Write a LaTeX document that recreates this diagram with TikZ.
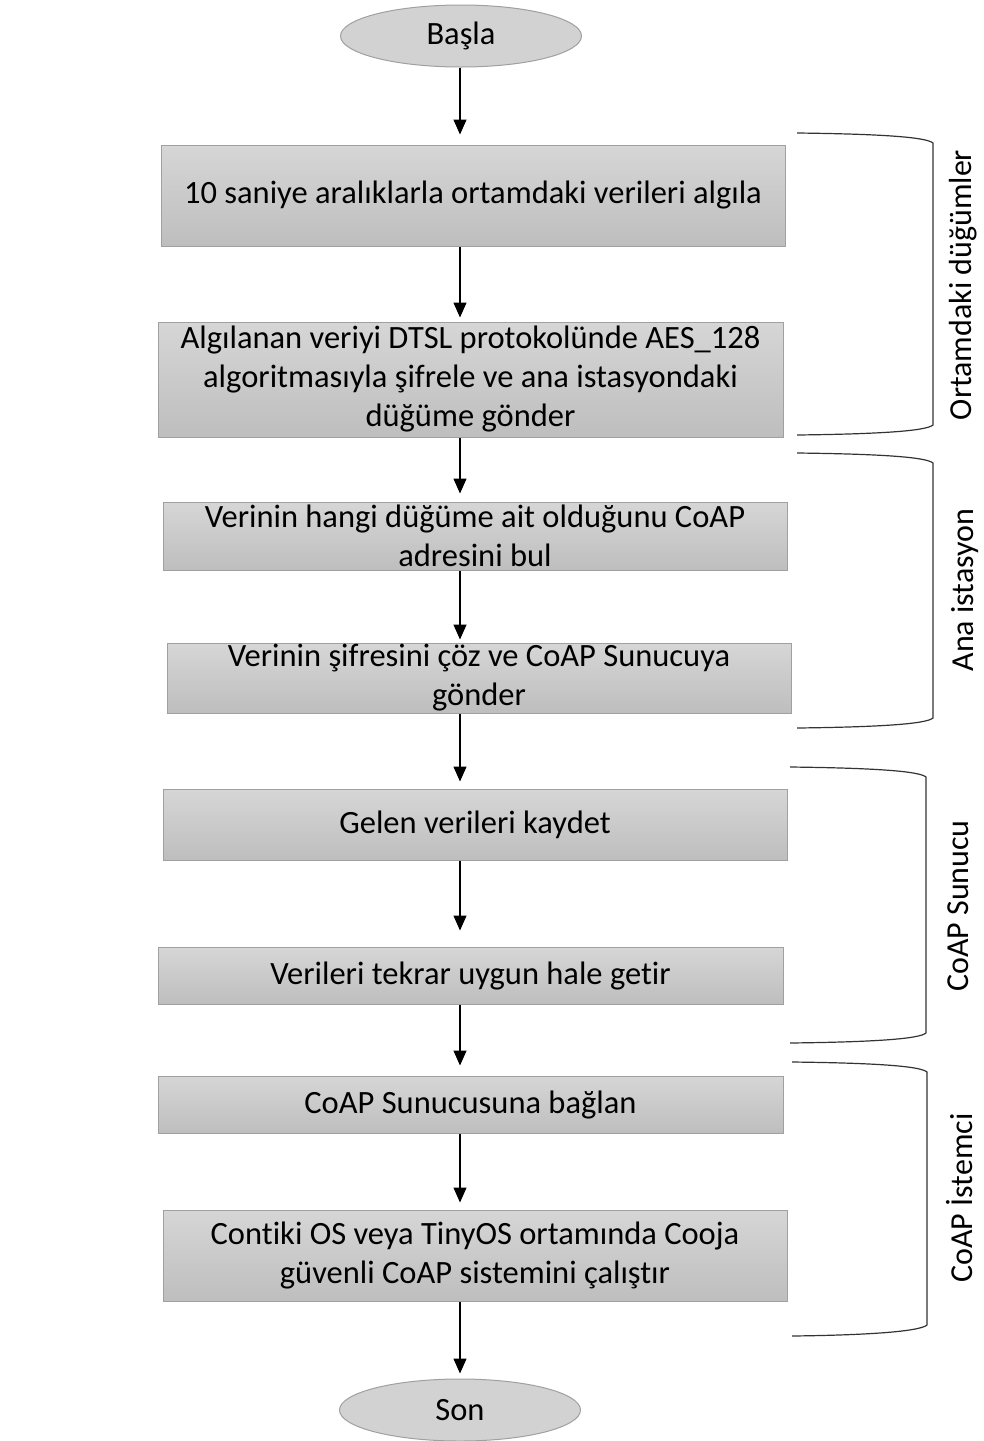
\documentclass[tikz,border=0pt]{standalone}
\usepackage{fontspec}
\setmainfont{Carlito}[Ligatures={NoCommon}]
\usetikzlibrary{shapes.geometric,arrows.meta}
\definecolor{boxline}{HTML}{A0A0A0}
\definecolor{boxtop}{HTML}{D6D6D6}
\definecolor{boxbot}{HTML}{BEBEBE}
\definecolor{ellfill}{HTML}{D2D2D2}
\tikzset{
  stepbox/.style={rectangle, draw=boxline, line width=1pt, top color=boxtop, bottom color=boxbot,
    inner sep=0pt, align=center, font=\fontsize{32.5}{39}\selectfont},
  terminal/.style={ellipse, draw=boxline, line width=1pt, fill=ellfill, minimum width=241pt,
    minimum height=62pt, inner sep=0pt, font=\fontsize{32.5}{39}\selectfont},
  arr/.style={line width=1.2pt, -{Triangle[width=13pt,length=15pt]}},
  brace/.style={line width=1.2pt, draw=black!80},
  grouplabel/.style={rotate=90, font=\fontsize{32}{36}\selectfont}
}
\begin{document}
\begin{tikzpicture}[x=1pt,y=-1pt]
\useasboundingbox (0,0) rectangle (984,1441);
\coordinate (ax) at (460,0);
\node[terminal] (start) at (461,36) {Başla};
\node[stepbox, minimum width=624pt, minimum height=101pt] (b1) at (473,195.5) {10 saniye aralıklarla ortamdaki verileri algıla};
\node[stepbox, minimum width=625pt, minimum height=115pt] (b2) at (470.5,379.5) {Algılanan veriyi DTSL protokolünde AES\_128\\algoritmasıyla şifrele ve ana istasyondaki\\düğüme gönder};
\node[stepbox, minimum width=624pt, minimum height=68pt] (b3) at (475,536) {Verinin hangi düğüme ait olduğunu CoAP\\adresini bul};
\node[stepbox, minimum width=624pt, minimum height=70pt] (b4) at (479,678) {Verinin şifresini çöz ve CoAP Sunucuya\\gönder};
\node[stepbox, minimum width=624pt, minimum height=71pt] (b5) at (475,824.5) {Gelen verileri kaydet};
\node[stepbox, minimum width=625pt, minimum height=57pt] (b6) at (470.5,975.5) {Verileri tekrar uygun hale getir};
\node[stepbox, minimum width=625pt, minimum height=57pt] (b7) at (470.5,1104.5) {CoAP Sunucusuna bağlan};
\node[stepbox, minimum width=624pt, minimum height=91pt] (b8) at (475,1255.5) {Contiki OS veya TinyOS ortamında Cooja\\güvenli CoAP sistemini çalıştır};
\node[terminal] (end) at (460,1410) {Son};

\draw[arr, shorten >=10pt] (start.south -| ax) -- (b1.north -| ax);
\draw[arr, shorten >=4pt] (b1.south -| ax) -- (b2.north -| ax);
\draw[arr, shorten >=8pt] (b2.south -| ax) -- (b3.north -| ax);
\draw[arr, shorten >=3pt] (b3.south -| ax) -- (b4.north -| ax);
\draw[arr, shorten >=7pt] (b4.south -| ax) -- (b5.north -| ax);
\draw[arr, shorten >=16pt] (b5.south -| ax) -- (b6.north -| ax);
\draw[arr, shorten >=10pt] (b6.south -| ax) -- (b7.north -| ax);
\draw[arr, shorten >=7pt] (b7.south -| ax) -- (b8.north -| ax);
\draw[arr, shorten >=5pt] (b8.south -| ax) -- (end.north -| ax);

% braces
\draw[brace] (797,133) .. controls (880,134) and (926,137) .. (933,143) -- (933,425) .. controls (926,431) and (880,434) .. (797,435);
\node[grouplabel] (g1) at (963,285) {Ortamdaki düğümler};
\draw[brace] (797,453) .. controls (880,454) and (926,457) .. (933,463) -- (933,718) .. controls (926,724) and (880,727) .. (797,728);
\node[grouplabel] (g2) at (965,590) {Ana istasyon};
\draw[brace] (790,767) .. controls (873,768) and (919,771) .. (926,777) -- (926,1033) .. controls (919,1039) and (873,1042) .. (790,1043);
\node[grouplabel] (g3) at (958,906) {CoAP Sunucu};
\draw[brace] (792,1062) .. controls (875,1063) and (920,1066) .. (927,1072) -- (927,1325) .. controls (920,1331) and (875,1335) .. (792,1336);
\node[grouplabel] (g4) at (960,1198) {CoAP İstemci};
\end{tikzpicture}
\end{document}
